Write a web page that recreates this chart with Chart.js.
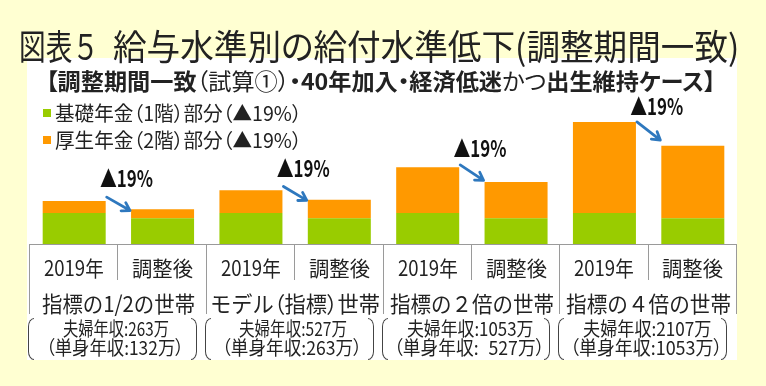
<!DOCTYPE html>
<html lang="ja">
<head>
<meta charset="UTF-8">
<title>給与水準別の給付水準低下</title>
<script src="https://cdn.jsdelivr.net/npm/chart.js"></script>
<style>
    body {
        margin: 0;
        width: 766px;
        height: 386px;
        overflow: hidden;
        background: #FFFFD2;
        font-family: "Noto Sans CJK JP", sans-serif;
        position: relative;
    }
    .panel {
        position: absolute;
        left: 27px;
        top: 58px;
        width: 710px;
        height: 302px;
        background: #fff;
    }
    #chart {
        position: absolute;
        left: 0;
        top: 0;
    }
    .t {
        position: absolute;
        white-space: pre;
        line-height: 1.2;
        transform-origin: 0 50%;
        color: #222;
        font-feature-settings: "palt";
    }
    .t.fw {
        font-feature-settings: normal;
    }
    .t .p {
        font-feature-settings: "palt";
    }
    .sq {
        position: absolute;
        width: 8px;
        height: 8px;
    }
    .br {
        position: absolute;
        width: 5px;
        height: 40px;
        border: 1.5px solid #444;
    }
</style>
</head>
<body>
<div class="panel"></div>
<canvas id="chart" width="766" height="386"></canvas>

<script>
    // data
    const groups = ['指標の1/2の世帯', 'モデル（指標）世帯', '指標の２倍の世帯', '指標の４倍の世帯'];
    const periods = ['2019年', '調整後'];
    const basicPension = [6.5, 5.4, 6.5, 5.4, 6.5, 5.4, 6.5, 5.4];
    const employeePension = [2.5, 1.9, 4.8, 3.9, 9.6, 7.6, 19.1, 15.2];
    const cutLabels = ['▲19%', '▲19%', '▲19%', '▲19%'];
    const coupleIncome = ['263', '527', '1053', '2107'];
    const singleIncome = ['132', '263', '527', '1053'];
    const seriesNames = ['基礎年金（1階）部分（▲19%）', '厚生年金（2階）部分（▲19%）'];
    const seriesColors = ['#99CC00', '#FF9900'];

    const labels = [];
    groups.forEach(g => periods.forEach(p => labels.push(p)));

    const FONT = '"Noto Sans CJK JP", sans-serif';

    function arrow(ctx, x1, y1, x2, y2) {
        const a = Math.atan2(y2 - y1, x2 - x1);
        ctx.beginPath();
        ctx.moveTo(x1, y1);
        ctx.lineTo(x2, y2);
        ctx.moveTo(x2 - 9 * Math.cos(a - 0.55), y2 - 9 * Math.sin(a - 0.55));
        ctx.lineTo(x2, y2);
        ctx.lineTo(x2 - 9 * Math.cos(a + 0.55), y2 - 9 * Math.sin(a + 0.55));
        ctx.stroke();
    }

    const tablePlugin = {
        id: 'table',
        afterDatasetsDraw(chart) {
            const ctx = chart.ctx;
            const area = chart.chartArea;
            const catW = (area.right - area.left) / labels.length;
            const bottom = area.bottom;
            ctx.save();
            // table lines
            ctx.strokeStyle = '#9a9a9a';
            ctx.lineWidth = 1;
            ctx.beginPath();
            ctx.moveTo(area.left, bottom + 0.5);
            ctx.lineTo(area.right, bottom + 0.5);
            for (let i = 0; i <= labels.length; i++) {
                const x = Math.round(area.left + i * catW) - 0.5;
                ctx.moveTo(x, bottom);
                ctx.lineTo(x, bottom + (i % 2 === 0 ? 70 : 36));
            }
            ctx.stroke();

            // arrows and ▲19% labels
            const top = chart.getDatasetMeta(1).data;
            ctx.strokeStyle = '#2E78BE';
            ctx.lineWidth = 2.8;
            ctx.lineCap = 'round';
            ctx.lineJoin = 'round';
            for (let g = 0; g < groups.length; g++) {
                const b1 = top[2 * g], b2 = top[2 * g + 1];
                const r1 = b1.x + b1.width / 2;
                const l2 = b2.x - b2.width / 2;
                const drop = b2.y - b1.y;
                arrow(ctx, r1 + 1, b1.y - 6 + 0.25 * drop, l2 - 1, b2.y + 5 - 0.45 * drop);

                ctx.font = 'bold 23px ' + FONT;
                ctx.fillStyle = '#111';
                ctx.textBaseline = 'middle';
                ctx.textAlign = 'left';
                const w = ctx.measureText(cutLabels[g]).width;
                const cx = (r1 + l2) / 2 + 8;
                const cy = b1.y - 26 + 0.45 * drop;
                ctx.save();
                ctx.translate(cx - 53 / 2, cy);
                ctx.scale(53 / w, 1);
                ctx.fillText(cutLabels[g], 0, 0);
                ctx.restore();
            }
            ctx.restore();
        }
    };

    const chart = new Chart(document.getElementById('chart'), {
        type: 'bar',
        data: {
            labels: labels,
            datasets: [
                { label: seriesNames[0], data: basicPension, backgroundColor: seriesColors[0] },
                { label: seriesNames[1], data: employeePension, backgroundColor: seriesColors[1] }
            ]
        },
        options: {
            responsive: false,
            animation: false,
            devicePixelRatio: 1,
            layout: { padding: { left: 30, right: 29, top: 101, bottom: 142 } },
            datasets: { bar: { barPercentage: 0.713, categoryPercentage: 1 } },
            scales: {
                x: { stacked: true, display: false },
                y: { stacked: true, display: false, min: 0, max: 30 }
            },
            plugins: {
                legend: { display: false },
                tooltip: { enabled: false }
            }
        },
        plugins: [tablePlugin]
    });

    // text placed as html
    function place(html, x, cy, w, size, opts) {
        opts = opts || {};
        const el = document.createElement('div');
        el.className = 't' + (opts.fw ? ' fw' : '');
        el.innerHTML = html;
        el.style.fontSize = size + 'px';
        document.body.appendChild(el);
        const nat = el.offsetWidth;
        const left = opts.center ? x - w / 2 : x;
        el.style.left = left + 'px';
        el.style.top = (cy - el.offsetHeight / 2) + 'px';
        el.style.transform = 'scaleX(' + (w / nat) + ')';
        return el;
    }

    function bracket(x, y, side) {
        const el = document.createElement('div');
        el.className = 'br';
        el.style.left = x + 'px';
        el.style.top = y + 'px';
        if (side === 'l') {
            el.style.borderRight = 'none';
            el.style.borderRadius = '7px 0 0 7px / 10px 0 0 10px';
        } else {
            el.style.borderLeft = 'none';
            el.style.borderRadius = '0 7px 7px 0 / 0 10px 10px 0';
        }
        document.body.appendChild(el);
    }

    place('図表５', 19, 45, 80, 35, { fw: true });
    place('給与水準別の給付水準低下(調整期間一致)', 113, 45, 626, 35);
    place('<b>【調整期間一致</b>（試算①）<b>・40年加入・経済低迷</b>かつ<b>出生維持ケース】</b>', 46, 81, 670, 23);

    seriesNames.forEach((name, i) => {
        const sq = document.createElement('div');
        sq.className = 'sq';
        sq.style.left = '43px';
        sq.style.top = (109 + i * 27) + 'px';
        sq.style.background = seriesColors[i];
        document.body.appendChild(sq);
        place(name, 55, 113 + i * 27, 247, 20);
    });

    const area = chart.chartArea;
    const catW = (area.right - area.left) / labels.length;
    const periodW = [60, 61];
    const groupW = [153, 170, 164, 165];
    const line1W = [106, 108, 126, 128];
    const line2W = [138, 140, 150, 152];
    labels.forEach((lab, i) => {
        place(lab, area.left + (i + 0.5) * catW, 267, periodW[i % 2], 21, { center: true, fw: true });
    });
    groups.forEach((g, i) => {
        const gl = area.left + i * 2 * catW;
        const gr = gl + 2 * catW;
        const gc = (gl + gr) / 2;
        const html = g.replace(/[（）]/g, m => '<span class="p">' + m + '</span>');
        place(html, gc, 302, groupW[i], 22, { center: true, fw: true });
        const single = singleIncome[i].padStart(coupleIncome[i].length, '\u2007');
        place('夫婦年収:' + coupleIncome[i] + '万', gc - 2, 328, line1W[i], 19, { center: true });
        place('（単身年収:' + single + '万）', gc - 3, 347, line2W[i], 19, { center: true });
        bracket(gl - 2, 318, 'l');
        bracket(gr - 16, 318, 'r');
    });
</script>
</body>
</html>
